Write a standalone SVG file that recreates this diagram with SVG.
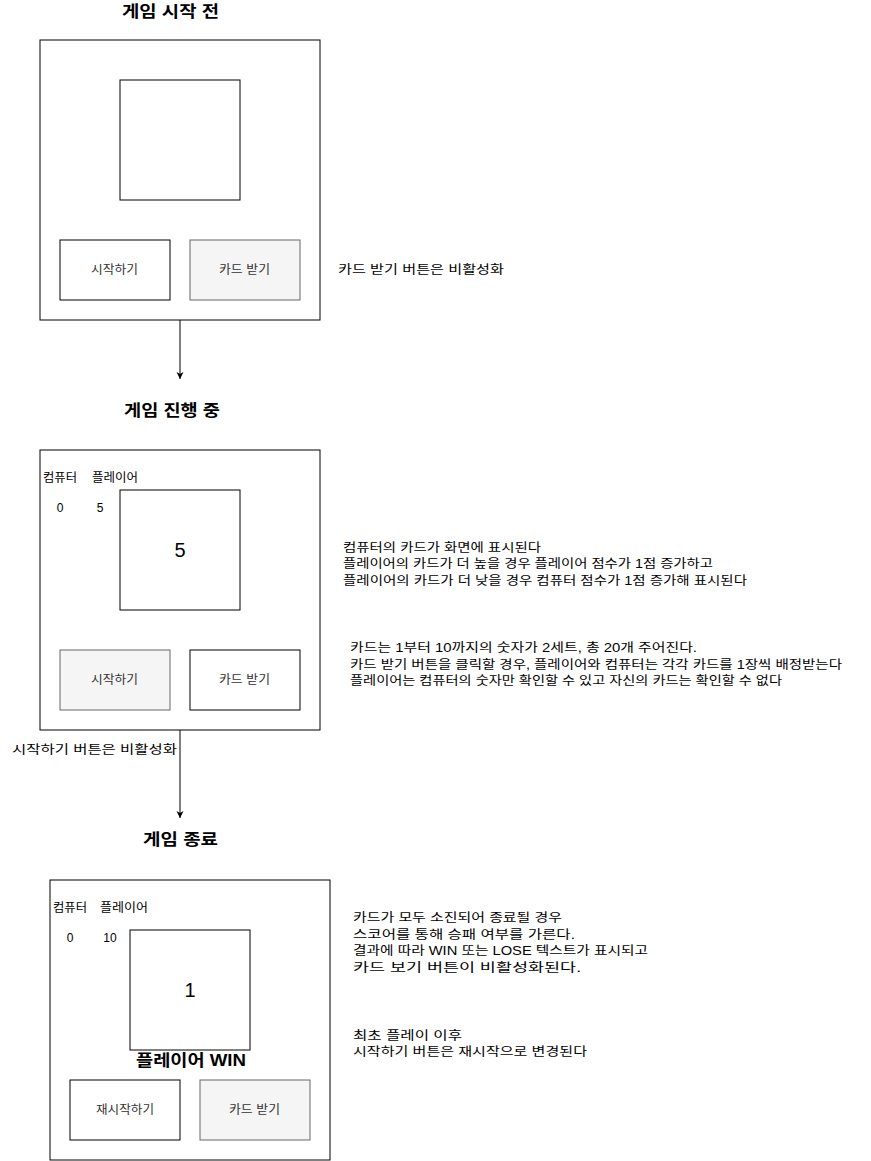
<svg xmlns="http://www.w3.org/2000/svg" width="871" height="1161" viewBox="0 0 871 1161">
<style>
text{font-family:"Liberation Sans","Noto Sans CJK KR",sans-serif;font-size:12px;fill:#000}
.t{font-size:16px;font-weight:bold}
.c{text-anchor:middle}
.b{fill:#fff;stroke:#000;stroke-width:1}
.d{fill:#f5f5f5;stroke:#666;stroke-width:1}
.dt{fill:#333}
.big{font-size:20px;text-anchor:middle}
</style>
<defs>
<marker id="ah" markerWidth="8" markerHeight="8" refX="7" refY="4" orient="auto" markerUnits="userSpaceOnUse">
<path d="M0,0.5 L7,4 L0,7.5 L2,4 Z" fill="#000"/>
</marker>
</defs>
<rect width="871" height="1161" fill="#fff"/>
<g id="connectors">
<line x1="180" y1="320" x2="180" y2="379" stroke="#000" marker-end="url(#ah)"/>
<line x1="180" y1="730" x2="180" y2="818" stroke="#000" marker-end="url(#ah)"/>
</g>
<g id="panel1">
<text class="t" x="122" y="17" textLength="97" lengthAdjust="spacingAndGlyphs">게임 시작 전</text>
<rect class="b" x="40" y="40" width="280" height="280"/>
<rect class="b" x="120" y="80" width="120" height="120"/>
<g id="p1-start"><rect class="b" x="60" y="240" width="110" height="60"/><text class="dt" x="91" y="274" textLength="47" lengthAdjust="spacingAndGlyphs">시작하기</text></g>
<g id="p1-card"><rect class="d" x="190" y="240" width="110" height="60"/><text class="dt" x="219" y="274" textLength="51" lengthAdjust="spacingAndGlyphs">카드 받기</text></g>
</g>
<text x="338" y="274" textLength="166" lengthAdjust="spacingAndGlyphs">카드 받기 버튼은 비활성화</text>
<g id="panel2">
<text class="t" x="124" y="416" textLength="96" lengthAdjust="spacingAndGlyphs">게임 진행 중</text>
<rect class="b" x="40" y="450" width="280" height="280"/>
<text x="43" y="482" textLength="34" lengthAdjust="spacingAndGlyphs">컴퓨터</text>
<text x="92" y="482" textLength="46" lengthAdjust="spacingAndGlyphs">플레이어</text>
<text class="c" x="60" y="512">0</text>
<text class="c" x="100" y="512">5</text>
<rect class="b" x="120" y="490" width="120" height="120"/>
<text class="big" x="180" y="557">5</text>
<g id="p2-start"><rect class="d" x="60" y="650" width="110" height="60"/><text class="dt" x="91" y="684" textLength="47" lengthAdjust="spacingAndGlyphs">시작하기</text></g>
<g id="p2-card"><rect class="b" x="190" y="650" width="110" height="60"/><text class="dt" x="219" y="684" textLength="51" lengthAdjust="spacingAndGlyphs">카드 받기</text></g>
</g>
<text x="12" y="754" textLength="165" lengthAdjust="spacingAndGlyphs">시작하기 버튼은 비활성화</text>
<text x="343" y="552" textLength="198" lengthAdjust="spacingAndGlyphs">컴퓨터의 카드가 화면에 표시된다</text>
<text x="343" y="568" textLength="370" lengthAdjust="spacingAndGlyphs">플레이어의 카드가 더 높을 경우 플레이어 점수가 1점 증가하고</text>
<text x="343" y="585" textLength="404" lengthAdjust="spacingAndGlyphs">플레이어의 카드가 더 낮을 경우 컴퓨터 점수가 1점 증가해 표시된다</text>
<text x="350" y="652" textLength="347" lengthAdjust="spacingAndGlyphs">카드는 1부터 10까지의 숫자가 2세트, 총 20개 주어진다.</text>
<text x="350" y="669" textLength="492" lengthAdjust="spacingAndGlyphs">카드 받기 버튼을 클릭할 경우, 플레이어와 컴퓨터는 각각 카드를 1장씩 배정받는다</text>
<text x="350" y="685" textLength="432" lengthAdjust="spacingAndGlyphs">플레이어는 컴퓨터의 숫자만 확인할 수 있고 자신의 카드는 확인할 수 없다</text>
<g id="panel3">
<text class="t" x="143" y="845" textLength="75" lengthAdjust="spacingAndGlyphs">게임 종료</text>
<rect class="b" x="50" y="880" width="280" height="280"/>
<text x="53" y="912" textLength="34" lengthAdjust="spacingAndGlyphs">컴퓨터</text>
<text x="100" y="912" textLength="48" lengthAdjust="spacingAndGlyphs">플레이어</text>
<text class="c" x="70" y="942">0</text>
<text class="c" x="110" y="942">10</text>
<rect class="b" x="130" y="930" width="120" height="120"/>
<text class="big" x="190" y="997">1</text>
<text class="t" x="136" y="1066" textLength="110" lengthAdjust="spacingAndGlyphs">플레이어 WIN</text>
<g id="p3-restart"><rect class="b" x="70" y="1080" width="110" height="60"/><text class="dt" x="96" y="1114" textLength="58" lengthAdjust="spacingAndGlyphs">재시작하기</text></g>
<g id="p3-card"><rect class="d" x="200" y="1080" width="110" height="60"/><text class="dt" x="229" y="1114" textLength="51" lengthAdjust="spacingAndGlyphs">카드 받기</text></g>
</g>
<text x="353" y="922" textLength="209" lengthAdjust="spacingAndGlyphs">카드가 모두 소진되어 종료될 경우</text>
<text x="353" y="939" textLength="222" lengthAdjust="spacingAndGlyphs">스코어를 통해 승패 여부를 가른다.</text>
<text x="353" y="955" textLength="295" lengthAdjust="spacingAndGlyphs">결과에 따라 WIN 또는 LOSE 텍스트가 표시되고</text>
<text x="353" y="972" textLength="228" lengthAdjust="spacingAndGlyphs">카드 보기 버튼이 비활성화된다.</text>
<text x="353" y="1040" textLength="109" lengthAdjust="spacingAndGlyphs">최초 플레이 이후</text>
<text x="353" y="1056" textLength="234" lengthAdjust="spacingAndGlyphs">시작하기 버튼은 재시작으로 변경된다</text>
</svg>
